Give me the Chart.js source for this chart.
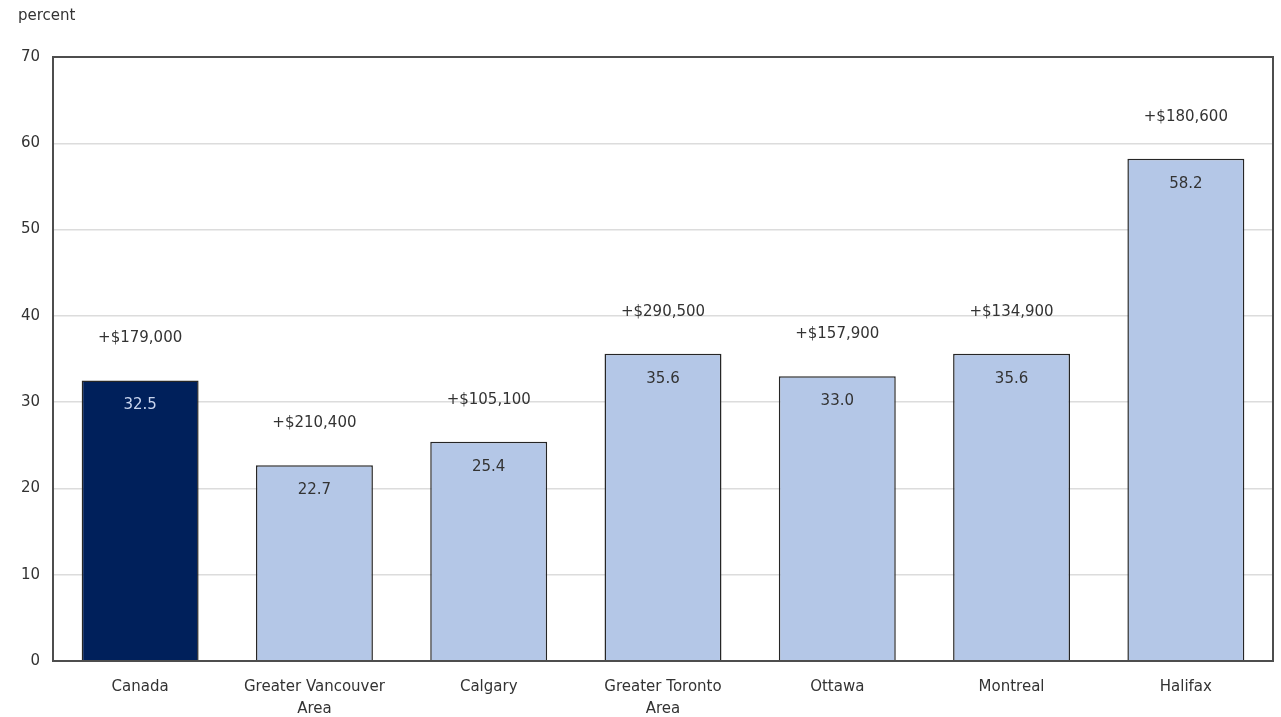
<!DOCTYPE html>
<html>
<head>
<meta charset="utf-8">
<script src="https://cdn.jsdelivr.net/npm/chart.js@4/dist/chart.umd.min.js"></script>
<style>
  html, body { margin: 0; padding: 0; background: #fff; }
  #wrap { width: 1281px; height: 717px; }
</style>
</head>
<body>
<div id="wrap"><canvas id="myChart" width="1281" height="717"></canvas></div>
<script>
var categories = ['Canada', ['Greater Vancouver', 'Area'], 'Calgary', ['Greater Toronto', 'Area'], 'Ottawa', 'Montreal', 'Halifax'];
var values = [32.5, 22.7, 25.4, 35.6, 33.0, 35.6, 58.2];
var changes = ['+$179,000', '+$210,400', '+$105,100', '+$290,500', '+$157,900', '+$134,900', '+$180,600'];
var yTicks = [0, 10, 20, 30, 40, 50, 60, 70];

var fontFamily = 'Tahoma, "DejaVu Sans", sans-serif';
var textColor = '#333333';

var barLabels = {
    id: 'barLabels',
    afterDatasetsDraw: function (chart) {
        var c = chart.ctx;
        var meta = chart.getDatasetMeta(0);
        c.save();
        c.font = '15px ' + fontFamily;
        c.textAlign = 'center';
        c.textBaseline = 'middle';
        meta.data.forEach(function (bar, i) {
            c.fillStyle = i === 0 ? '#c9d5ee' : textColor;
            c.fillText(values[i].toFixed(1), bar.x, bar.y + 25);
            c.fillStyle = textColor;
            c.fillText(changes[i], bar.x, bar.y - 42);
        });
        // plot frame
        var a = chart.chartArea;
        c.strokeStyle = '#4d4d4d';
        c.lineWidth = 2;
        c.strokeRect(a.left, a.top, a.right - a.left, a.bottom - a.top);
        // unit label
        c.fillStyle = textColor;
        c.textAlign = 'left';
        c.fillText('percent', 18, 16);
        c.restore();
    }
};

var ctx = document.getElementById('myChart').getContext('2d');
var myChart = new Chart(ctx, {
    type: 'bar',
    data: {
        labels: categories,
        datasets: [{
            data: values,
            backgroundColor: ['#00205b', '#b4c7e7', '#b4c7e7', '#b4c7e7', '#b4c7e7', '#b4c7e7', '#b4c7e7'],
            borderColor: '#262626',
            borderWidth: 1.5,
            borderSkipped: 'bottom',
            barPercentage: 0.671,
            categoryPercentage: 1
        }]
    },
    options: {
        responsive: false,
        animation: false,
        layout: { padding: { left: 0, top: 57, right: 8, bottom: 0 } },
        plugins: {
            legend: { display: false },
            tooltip: { enabled: false }
        },
        scales: {
            x: {
                grid: { display: false, drawTicks: false },
                border: { display: false },
                ticks: {
                    color: textColor,
                    font: { family: fontFamily, size: 15, lineHeight: 1.45 },
                    padding: 15,
                    maxRotation: 0
                },
                afterFit: function (s) { s.height = 56; }
            },
            y: {
                min: 0,
                max: 70,
                afterBuildTicks: function (s) { s.ticks = yTicks.map(function (v) { return { value: v }; }); },
                grid: { color: '#dcdcdc', lineWidth: 1.5, drawTicks: false },
                border: { display: false },
                ticks: {
                    color: textColor,
                    font: { family: fontFamily, size: 15 },
                    padding: 13
                },
                afterFit: function (s) { s.width = 53; }
            }
        }
    },
    plugins: [barLabels]
});
</script>
</body>
</html>
